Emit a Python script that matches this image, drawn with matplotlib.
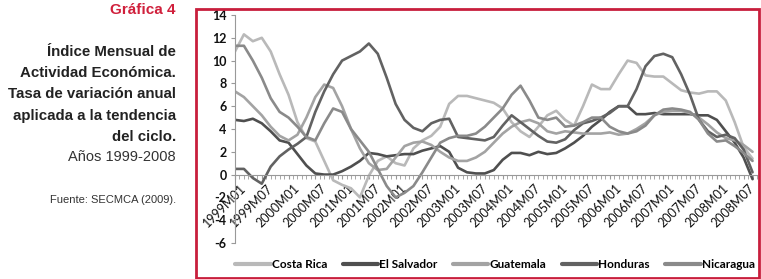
import matplotlib.pyplot as plt
from matplotlib.patches import Rectangle
from matplotlib.transforms import ScaledTranslation

# meses desde 1999M01, muestreados cada 2 meses
months = list(range(0, 117, 2))
tick_pos = list(range(0, 115, 6))
tick_labels = ['1999M01', '1999M07', '2000M01', '2000M07', '2001M01', '2001M07',
               '2002M01', '2002M07', '2003M01', '2003M07', '2004M01', '2004M07',
               '2005M01', '2005M07', '2006M01', '2006M07', '2007M01', '2007M07',
               '2008M01', '2008M07']

costa_rica = [10.8, 12.3, 11.7, 12.0, 10.8, 8.8, 7.0, 4.6, 3.2, 2.9, 1.2, -0.5, -0.9, -1.2,
              -2.0, -0.1, 1.2, 1.6, 1.0, 0.8, 2.3, 3.0, 3.4, 4.2, 6.2, 6.9, 6.9, 6.7, 6.5,
              6.3, 5.8, 4.6, 3.8, 3.3, 4.2, 5.2, 5.6, 4.8, 4.3, 6.0, 7.9, 7.5, 7.5, 8.8,
              10.0, 9.8, 8.7, 8.6, 8.6, 8.0, 7.4, 7.2, 7.1, 7.3, 7.3, 6.5, 4.6, 2.4, 1.4]
el_salvador = [4.8, 4.7, 4.9, 4.5, 3.8, 3.0, 2.8, 1.8, 0.8, 0.1, 0.0, 0.0, 0.3, 0.7, 1.2,
               1.9, 1.8, 1.6, 1.7, 1.8, 1.8, 2.1, 2.3, 2.5, 2.0, 0.6, 0.2, 0.1, 0.1, 0.4,
               1.3, 1.9, 1.9, 1.7, 2.0, 1.8, 1.9, 2.3, 2.8, 3.4, 4.2, 4.8, 5.5, 6.0, 6.0,
               5.3, 5.3, 5.4, 5.3, 5.3, 5.3, 5.3, 5.2, 5.2, 4.8, 3.8, 2.8, 1.5, -0.4]
guatemala = [7.3, 6.8, 6.0, 5.2, 4.2, 3.4, 3.0, 3.5, 5.0, 6.8, 7.9, 7.6, 6.0, 4.0, 2.3,
             1.0, 0.4, 0.5, 1.5, 2.5, 2.8, 2.9, 2.6, 2.0, 1.5, 1.2, 1.2, 1.5, 2.0, 2.8,
             3.6, 4.2, 4.6, 4.8, 4.5, 3.8, 3.6, 3.8, 3.7, 3.6, 3.6, 3.6, 3.7, 3.5, 3.6,
             4.0, 4.5, 5.2, 5.5, 5.6, 5.6, 5.4, 5.0, 4.4, 3.7, 3.2, 3.0, 2.6, 2.0]
honduras = [0.5, 0.5, -0.3, -0.8, 0.7, 1.6, 2.2, 2.7, 3.3, 5.5, 7.3, 8.8, 10.0, 10.4,
            10.8, 11.5, 10.6, 8.5, 6.2, 4.8, 4.1, 3.8, 4.5, 4.8, 4.9, 3.3, 3.2, 3.1, 3.0,
            3.3, 4.3, 5.2, 4.6, 4.0, 3.4, 2.9, 2.8, 3.1, 3.9, 4.5, 4.7, 5.0, 5.4, 6.0,
            6.0, 7.5, 9.5, 10.4, 10.6, 10.3, 8.8, 7.0, 4.8, 3.8, 3.3, 3.5, 3.2, 2.2, 0.2]
nicaragua = [11.3, 11.3, 10.0, 8.5, 6.7, 5.5, 5.0, 4.2, 3.3, 3.0, 4.5, 5.8, 5.5, 4.0, 3.0,
             2.0, 0.5, -1.0, -2.0, -1.6, -1.0, 0.2, 1.5, 2.8, 3.2, 3.4, 3.4, 3.6, 4.2, 5.0,
             5.8, 7.0, 7.8, 6.5, 5.0, 4.8, 5.0, 4.2, 4.3, 4.6, 5.0, 5.0, 4.2, 3.8, 3.6,
             3.8, 4.3, 5.2, 5.7, 5.8, 5.7, 5.5, 4.8, 3.6, 2.9, 3.0, 2.5, 1.9, 1.2]

series = [('Costa Rica', costa_rica, '#b9b9b9'),
          ('El Salvador', el_salvador, '#4f4f4f'),
          ('Guatemala', guatemala, '#a3a3a3'),
          ('Honduras', honduras, '#626262'),
          ('Nicaragua', nicaragua, '#8a8a8a')]

W, H = 761, 279
fig = plt.figure(figsize=(W / 100, H / 100), dpi=100)

# marco rojo
fig.patches.append(Rectangle((196 / W, 1 - 278 / H), 563 / W, 269 / H,
                             transform=fig.transFigure, fill=False,
                             ec='#c81e3c', lw=2))

# textos de la izquierda
red = '#d0203c'
fig.text(176 / W, 1 - 10 / H, 'Gráfica 4', ha='right', va='center', color=red,
         fontsize=11, fontweight='bold', family='Liberation Sans')
title_lines = ['Índice Mensual de', 'Actividad Económica.', 'Tasa de variación anual',
               'aplicada a la tendencia', 'del ciclo.']
for i, t in enumerate(title_lines):
    fig.text(176 / W, 1 - (52 + 21.2 * i) / H, t, ha='right', va='center', color='#222222',
             fontsize=10.8, fontweight='bold', family='Liberation Sans')
fig.text(176 / W, 1 - 157 / H, 'Años 1999-2008', ha='right', va='center', color='#333333',
         fontsize=10.5, family='Liberation Sans')
fig.text(176 / W, 1 - 200 / H, 'Fuente: SECMCA (2009).', ha='right', va='center',
         color='#333333', fontsize=8, family='Liberation Sans')

ax = fig.add_axes([235 / W, 1 - 243 / H, (757 - 235) / W, (243 - 15) / H])
ax.spines['bottom'].set_position(('data', 0))

for name, vals, col in series:
    ax.plot(months, vals, color=col, lw=1.9, label=name, solid_capstyle='round')

ax.set_xlim(0, 117)
ax.set_ylim(-6, 14)
ax.set_yticks(range(-6, 15, 2))
ax.set_yticklabels([str(v) for v in range(-6, 15, 2)], fontsize=9, fontweight='bold',
                   family='Lato', color='#111111')
ax.set_xticks(tick_pos)
ax.set_xticks(range(0, 118), minor=True)
ax.set_xticklabels(tick_labels, rotation=45, ha='right', rotation_mode='anchor',
                   fontsize=9, family='Lato', color='#111111')
ax.tick_params(axis='x', which='both', length=3, color='#999999', pad=2)
ax.tick_params(axis='y', length=3, color='#999999', pad=3)
shift = ScaledTranslation(5 / 100, 0, fig.dpi_scale_trans)
for lab in ax.get_xticklabels():
    lab.set_transform(lab.get_transform() + shift)

for s in ['top', 'right']:
    ax.spines[s].set_visible(False)
for s in ['left', 'bottom']:
    ax.spines[s].set_color('#999999')
    ax.spines[s].set_linewidth(0.8)
ax.patch.set_alpha(0)

leg = fig.legend(loc='center', bbox_to_anchor=(495 / W, 1 - 265 / H), ncol=5,
                 frameon=False, handlelength=3.0, handletextpad=0.1, columnspacing=1.3,
                 prop={'family': 'Lato', 'weight': 'bold', 'size': 8.5})
for line in leg.get_lines():
    line.set_linewidth(3)

fig.savefig('out.png', dpi=100)
